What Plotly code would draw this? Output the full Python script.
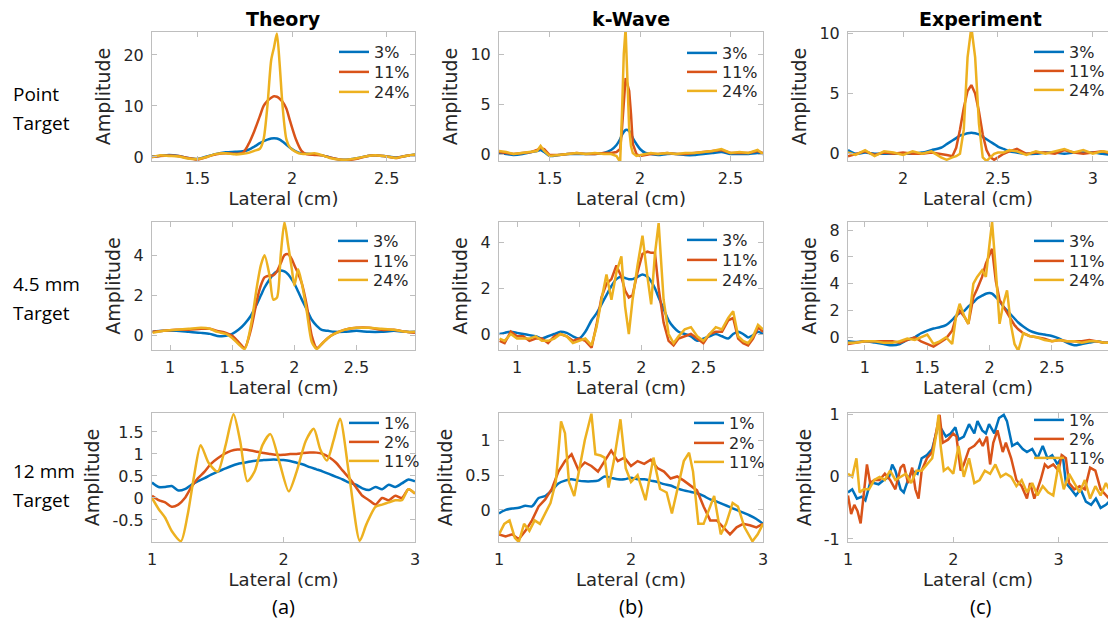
import plotly.graph_objects as go

# ======================= DATA =======================
# --- Row 1: Point target (legend 3%, 11%, 24%) ---
theory_pt_x = [1.26, 1.30, 1.35, 1.40, 1.45, 1.50, 1.55, 1.60, 1.65, 1.70, 1.74, 1.77, 1.80, 1.83, 1.85,
               1.87, 1.89, 1.905, 1.92, 1.935, 1.95, 1.97, 1.99, 2.02, 2.05, 2.08, 2.12, 2.16, 2.20, 2.25,
               2.30, 2.35, 2.40, 2.45, 2.50, 2.55, 2.60, 2.65]
theory_pt_3 = [0.1, 0.2, 0.4, 0.2, -0.2, -0.4, 0.1, 0.6, 0.9, 1.0, 1.1, 1.4, 2.0, 2.7, 3.1, 3.4, 3.6, 3.65,
               3.6, 3.4, 3.0, 2.4, 1.8, 1.1, 0.7, 0.6, 0.5, 0.3, -0.1, -0.5, -0.5, -0.2, 0.2, 0.3, 0.1,
               -0.1, 0.2, 0.5]
theory_pt_11 = [0.0, 0.2, 0.3, 0.2, -0.2, -0.5, 0.0, 0.5, 0.7, 0.6, 0.8, 2.5, 5.0, 8.0, 10.0, 11.0, 11.6,
                11.9, 11.8, 11.4, 10.8, 9.5, 7.0, 3.5, 1.2, 0.5, 0.4, 0.3, -0.1, -0.5, -0.6, -0.3, 0.2,
                0.3, 0.1, -0.2, 0.2, 0.4]
theory_pt_24 = [0.0, 0.3, 0.2, 0.1, -0.3, -0.4, 0.0, 0.6, 0.7, 0.5, 0.6, 0.8, 1.2, 1.6, 3.5, 10.0, 19.0,
                21.5, 24.2, 18.0, 10.0, 3.5, 1.8, 1.0, 0.6, 0.6, 0.7, 0.3, -0.2, -0.5, -0.5, -0.2, 0.2,
                0.3, 0.1, -0.2, 0.2, 0.5]

kwave_pt_x = [1.22, 1.26, 1.30, 1.35, 1.40, 1.43, 1.45, 1.47, 1.50, 1.55, 1.60, 1.65, 1.70, 1.75, 1.80,
              1.84, 1.87, 1.89, 1.90, 1.91, 1.92, 1.93, 1.94, 1.95, 1.96, 1.98, 2.00, 2.03, 2.06, 2.10,
              2.15, 2.20, 2.25, 2.30, 2.35, 2.40, 2.45, 2.50, 2.55, 2.60, 2.65, 2.68]
kwave_pt_3 = [0.1, 0.0, -0.1, 0.0, 0.2, 0.3, 0.4, 0.2, -0.2, -0.1, 0.0, 0.0, 0.0, 0.0, 0.1, 0.4, 0.9, 1.5,
              1.9, 2.2, 2.4, 2.4, 2.3, 2.0, 1.6, 1.0, 0.5, 0.1, 0.0, -0.1, 0.0, 0.0, -0.1, -0.1, 0.0, 0.1,
              0.2, 0.0, 0.0, 0.0, 0.1, 0.0]
kwave_pt_11 = [0.2, 0.1, 0.0, 0.1, 0.2, 0.4, 0.6, 0.5, -0.1, -0.1, 0.0, 0.1, 0.0, 0.0, 0.1, 0.1, 0.2, 0.5,
               2.5, 5.5, 7.6, 7.0, 6.3, 4.0, 1.0, 0.0, -0.2, -0.1, 0.0, 0.0, 0.1, 0.0, 0.0, 0.1, 0.2, 0.3,
               0.4, 0.1, 0.1, 0.1, 0.3, 0.1]
kwave_pt_24 = [0.3, 0.2, 0.0, 0.1, 0.2, 0.3, 0.8, 0.3, -0.2, -0.1, 0.0, 0.1, 0.0, 0.1, 0.0, 0.0, -0.2, -0.8,
               4.0, 10.0, 12.5, 6.5, 2.5, 0.8, 0.1, -0.2, -0.1, 0.0, 0.1, 0.0, 0.1, 0.0, 0.1, 0.1, 0.2,
               0.3, 0.5, 0.1, 0.2, 0.1, 0.4, 0.0]

exp_pt_x = [1.71, 1.75, 1.80, 1.85, 1.90, 1.95, 2.00, 2.05, 2.10, 2.15, 2.20, 2.23, 2.26, 2.28, 2.30, 2.32,
            2.34, 2.36, 2.38, 2.40, 2.42, 2.44, 2.46, 2.48, 2.50, 2.53, 2.56, 2.60, 2.65, 2.70, 2.75, 2.80,
            2.85, 2.90, 2.95, 3.00, 3.05, 3.10]
exp_pt_3 = [0.3, 0.0, 0.1, 0.0, 0.0, 0.0, 0.0, 0.0, 0.1, 0.3, 0.5, 0.8, 1.1, 1.3, 1.5, 1.6, 1.7, 1.75, 1.7,
            1.6, 1.4, 1.2, 1.0, 0.8, 0.6, 0.4, 0.2, 0.1, 0.0, 0.0, 0.1, 0.1, 0.0, 0.1, 0.1, 0.1, 0.0, -0.1]
exp_pt_11 = [-0.2, 0.0, 0.2, -0.1, 0.1, 0.0, 0.1, 0.0, 0.0, 0.1, 0.0, -0.1, -0.2, 0.5, 2.0, 3.8, 5.2, 5.7,
             5.0, 3.5, 1.6, 0.3, -0.3, -0.5, -0.3, 0.0, 0.2, 0.4, 0.0, 0.1, 0.1, 0.0, 0.3, 0.1, 0.0, 0.1,
             0.2, 0.0]
exp_pt_24 = [0.1, -0.1, 0.3, -0.2, 0.2, 0.1, -0.1, 0.2, 0.0, 0.2, -0.3, -0.5, -0.3, -0.2, 0.0, 2.0, 8.0,
             10.5, 8.0, 2.5, -0.3, -0.6, -0.3, 0.0, 0.1, 0.1, 0.3, 0.2, -0.1, 0.2, 0.0, 0.2, 0.4, 0.1, 0.3,
             0.0, 0.2, 0.1]

# --- Row 2: 4.5 mm target (legend 3%, 11%, 24%) ---
theory_45_x = [0.86, 0.95, 1.05, 1.15, 1.25, 1.32, 1.38, 1.45, 1.50, 1.55, 1.60, 1.65, 1.70, 1.73, 1.76,
               1.80, 1.83, 1.86, 1.89, 1.92, 1.95, 1.98, 2.00, 2.03, 2.06, 2.10, 2.14, 2.18, 2.22, 2.27,
               2.32, 2.40, 2.50, 2.60, 2.70, 2.80, 2.90, 2.97]
theory_45_3 = [0.2, 0.25, 0.25, 0.2, 0.15, 0.1, 0.0, 0.0, 0.1, 0.3, 0.6, 1.0, 1.6, 2.0, 2.4, 2.8, 3.05, 3.2,
               3.25, 3.2, 3.05, 2.8, 2.6, 2.2, 1.8, 1.3, 0.8, 0.5, 0.3, 0.25, 0.2, 0.2, 0.25, 0.2, 0.2,
               0.25, 0.2, 0.2]
theory_45_11 = [0.2, 0.25, 0.3, 0.3, 0.35, 0.35, 0.25, 0.15, 0.0, -0.3, -0.6, 0.3, 1.8, 2.5, 2.9, 3.0, 3.0,
                3.2, 3.6, 4.0, 4.05, 3.8, 3.5, 3.1, 2.6, 1.5, 0.0, -0.6, -0.4, -0.1, 0.1, 0.3, 0.4, 0.4,
                0.3, 0.3, 0.2, 0.15]
theory_45_24 = [0.15, 0.25, 0.3, 0.35, 0.4, 0.35, 0.2, 0.1, -0.1, -0.4, -0.65, 0.5, 2.5, 3.5, 4.0, 3.0,
                1.8, 1.9, 4.0, 5.65, 4.5, 3.3, 2.5, 3.3, 2.6, 1.2, -0.3, -0.65, -0.4, -0.1, 0.1, 0.3, 0.4,
                0.4, 0.35, 0.3, 0.2, 0.2]

kwave_45_x = [0.86, 0.90, 0.95, 1.00, 1.05, 1.10, 1.15, 1.20, 1.25, 1.30, 1.35, 1.40, 1.45, 1.50, 1.55,
              1.60, 1.64, 1.68, 1.72, 1.76, 1.80, 1.84, 1.87, 1.90, 1.93, 1.97, 2.01, 2.05, 2.08, 2.11,
              2.14, 2.18, 2.22, 2.26, 2.30, 2.35, 2.40, 2.45, 2.50, 2.55, 2.60, 2.65, 2.70, 2.74, 2.78,
              2.82, 2.86, 2.90, 2.94, 2.98]
kwave_45_3 = [0.0, 0.05, 0.1, 0.05, 0.0, -0.05, -0.1, -0.2, -0.1, 0.0, 0.1, 0.05, -0.1, -0.2, 0.1, 0.6, 0.9,
              1.3, 1.7, 2.1, 2.4, 2.5, 2.45, 2.4, 2.4, 2.5, 2.6, 2.5, 2.3, 2.0, 1.6, 1.1, 0.6, 0.3, 0.1,
              0.0, -0.1, -0.3, -0.2, -0.1, 0.0, -0.1, -0.2, 0.0, 0.1, 0.0, -0.15, -0.05, 0.1, 0.0]
kwave_45_11 = [-0.3, -0.4, 0.1, -0.1, -0.1, -0.3, -0.2, -0.2, -0.4, -0.1, 0.0, -0.1, -0.3, -0.2, -0.3,
               -0.6, 0.4, 1.6, 2.2, 2.4, 3.0, 2.5, 1.9, 1.6, 1.7, 2.7, 3.5, 3.6, 3.55, 3.55, 2.0, 0.5,
               -0.3, -0.5, -0.2, -0.1, 0.0, -0.2, -0.4, 0.0, 0.1, 0.1, 0.6, 0.7, -0.2, -0.4, -0.5, -0.2,
               0.3, 0.1]
kwave_45_24 = [-0.2, -0.3, 0.0, -0.2, -0.2, -0.2, -0.1, -0.3, -0.3, -0.2, 0.0, -0.1, -0.4, -0.3, -0.2,
               -0.5, 0.3, 1.5, 2.6, 1.5, 2.7, 3.4, 1.2, 0.0, 1.5, 3.0, 4.3, 2.5, 1.3, 3.5, 4.85, 1.5, 0.0,
               -0.4, -0.1, 0.2, 0.3, -0.1, -0.3, 0.0, 0.3, 0.2, 0.7, 1.0, -0.1, -0.3, -0.4, -0.1, 0.4,
               0.2]

exp_45_x = [0.86, 0.92, 1.00, 1.08, 1.15, 1.22, 1.28, 1.34, 1.40, 1.45, 1.50, 1.55, 1.60, 1.65, 1.70, 1.73,
            1.76, 1.80, 1.83, 1.87, 1.90, 1.94, 1.97, 2.00, 2.02, 2.05, 2.08, 2.11, 2.14, 2.17, 2.20, 2.23,
            2.27, 2.32, 2.38, 2.44, 2.50, 2.56, 2.62, 2.68, 2.74, 2.80, 2.86, 2.92, 2.98]
exp_45_3 = [-0.3, -0.35, -0.3, -0.4, -0.5, -0.6, -0.5, -0.2, 0.0, 0.3, 0.5, 0.65, 0.75, 0.9, 1.3, 1.6, 1.8,
            2.0, 2.3, 2.6, 2.9, 3.1, 3.25, 3.3, 3.25, 3.0, 2.7, 2.3, 2.0, 1.7, 1.4, 1.1, 0.8, 0.5, 0.3,
            0.2, 0.1, -0.1, -0.4, -0.6, -0.5, -0.4, -0.3, -0.4, -0.4]
exp_45_11 = [-0.5, -0.4, -0.3, -0.3, -0.3, -0.3, -0.4, -0.2, 0.0, -0.3, -0.5, -0.7, -0.4, -0.1, 0.5, 1.5,
             2.0, 1.5, 1.0, 3.0, 3.6, 4.5, 5.5, 6.2, 6.6, 4.2, 2.8, 2.3, 1.8, 1.3, 0.9, 0.6, 0.3, 0.1, 0.0,
             -0.1, -0.3, -0.2, -0.3, -0.3, -0.3, -0.2, -0.3, -0.4, -0.4]
exp_45_24 = [-0.4, -0.4, -0.3, -0.3, -0.4, -0.4, -0.3, -0.1, -0.2, 0.0, 0.2, -0.5, -0.3, 0.0, -0.5, 1.5,
             2.5, 1.5, 1.0, 4.0, 4.5, 5.0, 4.5, 7.0, 8.6, 5.0, 1.0, 2.5, 3.5, 1.0, -0.5, -1.0, 0.3, 0.1,
             0.0, -0.2, -0.3, -0.2, -0.3, -0.3, -0.4, -0.3, -0.3, -0.4, -0.4]

# --- Row 3: 12 mm target (legend 1%, 2%, 11%) ---
theory_12_x = [1.00, 1.05, 1.10, 1.15, 1.20, 1.25, 1.30, 1.35, 1.40, 1.45, 1.50, 1.55, 1.60, 1.65, 1.70,
               1.75, 1.80, 1.85, 1.90, 1.95, 2.00, 2.05, 2.10, 2.15, 2.20, 2.25, 2.30, 2.35, 2.40, 2.45,
               2.50, 2.55, 2.60, 2.65, 2.70, 2.75, 2.80, 2.85, 2.90, 2.95, 3.00]
theory_12_1 = [0.35, 0.25, 0.25, 0.27, 0.17, 0.2, 0.3, 0.38, 0.45, 0.53, 0.6, 0.66, 0.72, 0.77, 0.8, 0.83,
               0.85, 0.86, 0.87, 0.87, 0.86, 0.84, 0.8, 0.76, 0.7, 0.65, 0.6, 0.54, 0.48, 0.42, 0.35, 0.3,
               0.22, 0.18, 0.25, 0.2, 0.3, 0.25, 0.33, 0.42, 0.38]
theory_12_2 = [0.05, -0.05, -0.1, -0.2, -0.15, 0.0, 0.25, 0.45, 0.6, 0.78, 0.9, 1.0, 1.07, 1.1, 1.1, 1.08,
               1.05, 1.02, 1.0, 0.98, 0.98, 1.0, 1.0, 1.02, 1.03, 1.03, 1.0, 0.92, 0.8, 0.62, 0.45, 0.25,
               0.05, -0.05, -0.15, 0.0, -0.05, 0.05, 0.0, 0.2, 0.1]
theory_12_11_x = [1.00, 1.05, 1.10, 1.15, 1.22, 1.27, 1.32, 1.37, 1.43, 1.50, 1.56, 1.62, 1.67, 1.725, 1.78,
                  1.84, 1.90, 1.97, 2.04, 2.10, 2.17, 2.23, 2.28, 2.33, 2.38, 2.43, 2.50, 2.58, 2.63, 2.70,
                  2.75, 2.80, 2.85, 2.90, 2.95, 3.00]
theory_12_11 = [0.0, -0.25, -0.45, -0.75, -0.98, -0.4, 0.5, 1.2, 0.8, 0.6, 1.2, 1.9, 1.3, 0.38, 0.6, 1.2,
                1.45, 0.8, 0.15, 0.6, 1.3, 1.57, 1.1, 0.85, 1.3, 1.8, 0.5, -0.97, -0.6, -0.2, -0.15, -0.1,
                -0.05, -0.05, 0.2, 0.1]

kwave_12_x = theory_12_x
kwave_12_1 = [-0.05, 0.0, 0.02, 0.03, 0.06, 0.05, 0.17, 0.2, 0.28, 0.38, 0.42, 0.44, 0.42, 0.41, 0.41, 0.42,
              0.48, 0.46, 0.44, 0.44, 0.46, 0.44, 0.44, 0.42, 0.4, 0.37, 0.35, 0.31, 0.28, 0.26, 0.24, 0.2,
              0.15, 0.12, 0.08, 0.04, 0.0, -0.04, -0.08, -0.13, -0.2]
kwave_12_2 = [-0.35, -0.38, -0.35, -0.42, -0.3, -0.15, 0.05, 0.15, 0.3, 0.55, 0.7, 0.8, 0.58, 0.68, 0.63,
              0.55, 0.7, 0.85, 0.7, 0.75, 0.63, 0.7, 0.66, 0.72, 0.6, 0.55, 0.45, 0.48, 0.42, 0.35, 0.28,
              0.05, -0.15, -0.15, -0.25, -0.35, -0.25, -0.2, -0.22, -0.25, -0.2]
kwave_12_11_x = [1.00, 1.04, 1.08, 1.12, 1.15, 1.19, 1.23, 1.27, 1.31, 1.35, 1.39, 1.43, 1.47, 1.50, 1.53,
                 1.57, 1.61, 1.65, 1.70, 1.73, 1.77, 1.80, 1.83, 1.87, 1.92, 1.96, 2.00, 2.05, 2.11, 2.17,
                 2.22, 2.27, 2.31, 2.35, 2.40, 2.44, 2.47, 2.51, 2.55, 2.59, 2.63, 2.68, 2.72, 2.77, 2.81,
                 2.86, 2.92, 2.96, 3.00]
kwave_12_11 = [-0.35, -0.2, -0.15, -0.4, -0.46, -0.2, -0.3, -0.15, -0.2, -0.05, 0.1, 0.4, 1.27, 1.1, 0.4,
               0.2, 0.6, 1.0, 1.38, 0.8, 0.78, 0.75, 0.32, 0.7, 1.3, 0.6, 0.4, 0.5, 0.14, 0.75, 0.3, 0.25,
               -0.05, 0.3, 0.7, 0.82, 0.55, -0.2, -0.2, 0.0, 0.2, -0.35, -0.2, 0.1, 0.05, -0.25, -0.45,
               -0.35, -0.2]

exp_12_1_x = [1.0, 1.04, 1.085, 1.13, 1.165, 1.21, 1.245, 1.29, 1.34, 1.39, 1.42, 1.45, 1.5, 1.53, 1.58,
              1.61, 1.66, 1.70, 1.75, 1.80, 1.83, 1.86, 1.895, 1.93, 1.975, 2.02, 2.05, 2.10, 2.15, 2.20,
              2.23, 2.275, 2.31, 2.34, 2.39, 2.435, 2.48, 2.51, 2.56, 2.61, 2.66, 2.70, 2.75, 2.80, 2.85,
              2.895, 2.94, 2.99, 3.04, 3.07, 3.12, 3.165, 3.21, 3.26, 3.31, 3.355, 3.40, 3.45, 3.48]
exp_12_1 = [-0.25, -0.2, -0.35, -0.32, -0.38, -0.1, -0.1, -0.12, -0.05, 0.0, 0.2, 0.1, -0.2, -0.25, 0.0,
            0.1, 0.05, 0.3, 0.35, 0.45, 0.65, 0.85, 0.75, 0.65, 0.7, 0.8, 0.6, 0.65, 0.85, 0.7, 0.9, 0.75,
            0.7, 0.85, 0.7, 0.95, 1.0, 0.9, 0.5, 0.55, 0.45, 0.4, 0.45, 0.3, 0.5, 0.3, 0.35, 0.2, 0.35,
            -0.1, -0.2, -0.3, -0.2, -0.4, -0.45, -0.35, -0.5, -0.45, -0.4]
exp_12_2_x = [1.0, 1.03, 1.06, 1.09, 1.12, 1.15, 1.18, 1.21, 1.25, 1.30, 1.35, 1.40, 1.45, 1.50, 1.53, 1.57,
              1.61, 1.64, 1.67, 1.70, 1.75, 1.80, 1.84, 1.87, 1.90, 1.95, 2.00, 2.03, 2.07, 2.10, 2.15,
              2.20, 2.25, 2.28, 2.32, 2.35, 2.38, 2.42, 2.47, 2.50, 2.55, 2.60, 2.65, 2.70, 2.73, 2.77,
              2.80, 2.83, 2.87, 2.90, 2.95, 3.00, 3.03, 3.07, 3.10, 3.15, 3.20, 3.25, 3.30, 3.35, 3.40,
              3.45, 3.48]
exp_12_2 = [-0.3, -0.6, -0.45, -0.55, -0.75, -0.3, 0.2, -0.1, -0.05, -0.05, 0.05, -0.05, -0.2, 0.15, 0.2,
            -0.1, 0.15, -0.2, -0.35, 0.1, 0.3, 0.4, 0.75, 1.0, 0.55, 0.6, 0.7, 0.65, 0.1, 0.2, 0.45, 0.5,
            0.6, 0.5, 0.65, 0.2, 0.55, 0.75, 0.4, 0.55, 0.3, -0.05, -0.15, -0.35, -0.1, -0.35, -0.2, -0.05,
            0.2, 0.15, 0.2, 0.1, 0.35, 0.3, -0.1, -0.2, -0.15, -0.2, 0.15, 0.1, -0.2, -0.3, -0.35]
exp_12_11_x = [1.0, 1.04, 1.08, 1.11, 1.15, 1.20, 1.25, 1.30, 1.35, 1.40, 1.45, 1.50, 1.55, 1.60, 1.65,
               1.70, 1.75, 1.80, 1.84, 1.86, 1.88, 1.91, 1.95, 2.00, 2.05, 2.10, 2.15, 2.20, 2.25, 2.30,
               2.35, 2.40, 2.45, 2.50, 2.55, 2.60, 2.65, 2.70, 2.75, 2.80, 2.85, 2.90, 2.95, 3.00, 3.05,
               3.10, 3.15, 3.20, 3.25, 3.30, 3.35, 3.40, 3.45, 3.48]
exp_12_11 = [0.05, 0.0, 0.3, -0.25, -0.2, -0.2, -0.05, 0.0, -0.05, 0.1, -0.05, 0.0, 0.05, -0.1, 0.1, 0.1,
             0.2, 0.3, 0.7, 1.0, 0.5, 0.1, 0.15, 0.05, 0.5, 0.0, 0.3, -0.1, -0.05, 0.1, 0.05, 0.2, 0.0,
             0.05, 0.0, -0.15, -0.05, -0.25, -0.1, -0.3, -0.15, -0.25, -0.3, 0.2, -0.2, 0.05, -0.1, -0.25,
             -0.05, -0.35, -0.15, -0.3, -0.1, -0.2]

legend_names_rows12 = ['3%', '11%', '24%']
legend_names_row3 = ['1%', '2%', '11%']
column_titles = ['Theory', 'k-Wave', 'Experiment']
row_labels = [['Point', 'Target'], ['4.5 mm', 'Target'], ['12 mm', 'Target']]
panel_letters = ['(a)', '(b)', '(c)']

# ======================= STYLE / LAYOUT =======================
W, H = 1108, 625
COLORS = ['#0072BD', '#D95319', '#EDB120']
AXC = '#BEBEBE'
TXT = '#262626'
FONT = 'DejaVu Sans'
LABEL_FONT = 'Open Sans'
COLS_PX = [(152, 415), (499, 763), (848, 1108)]
ROWS_PX = [(32, 161), (222, 350), (413, 542)]
LEG_FONT = 16
LEG_CENTER_OFFSET = 17  # px from legend top to its single item centre

panels = [
    dict(r=0, c=0, xr=[1.26, 2.65], yr=[-0.8, 24.5], xt=[1.5, 2, 2.5], yt=[0, 10, 20],
         s=[(theory_pt_x, theory_pt_3), (theory_pt_x, theory_pt_11), (theory_pt_x, theory_pt_24)],
         shape=['spline'] * 3, names=legend_names_rows12, leg=(339, [52, 72, 92])),
    dict(r=0, c=1, xr=[1.22, 2.68], yr=[-0.7, 12.2], xt=[1.5, 2, 2.5], yt=[0, 5, 10],
         s=[(kwave_pt_x, kwave_pt_3), (kwave_pt_x, kwave_pt_11), (kwave_pt_x, kwave_pt_24)],
         shape=['spline', 'linear', 'linear'], names=legend_names_rows12, leg=(687, [53, 72, 91])),
    dict(r=0, c=2, xr=[1.71, 3.08], yr=[-0.6, 10.1], xt=[2, 2.5, 3], yt=[0, 5, 10],
         s=[(exp_pt_x, exp_pt_3), (exp_pt_x, exp_pt_11), (exp_pt_x, exp_pt_24)],
         shape=['spline', 'linear', 'linear'], names=legend_names_rows12, leg=(1034, [52, 71, 90])),
    dict(r=1, c=0, xr=[0.855, 2.97], yr=[-0.7, 5.65], xt=[1, 1.5, 2, 2.5], yt=[0, 2, 4],
         s=[(theory_45_x, theory_45_3), (theory_45_x, theory_45_11), (theory_45_x, theory_45_24)],
         shape=['spline'] * 3, names=legend_names_rows12, leg=(338, [241, 261, 280])),
    dict(r=1, c=1, xr=[0.855, 2.98], yr=[-0.7, 4.9], xt=[1, 1.5, 2, 2.5], yt=[0, 2, 4],
         s=[(kwave_45_x, kwave_45_3), (kwave_45_x, kwave_45_11), (kwave_45_x, kwave_45_24)],
         shape=['spline', 'linear', 'linear'], names=legend_names_rows12, leg=(687, [240, 260, 280])),
    dict(r=1, c=2, xr=[0.864, 2.95], yr=[-0.95, 8.6], xt=[1, 1.5, 2, 2.5], yt=[0, 2, 4, 6, 8],
         s=[(exp_45_x, exp_45_3), (exp_45_x, exp_45_11), (exp_45_x, exp_45_24)],
         shape=['spline', 'linear', 'linear'], names=legend_names_rows12, leg=(1034, [241, 261, 280])),
    dict(r=2, c=0, xr=[1, 3], yr=[-1.0, 1.93], xt=[1, 2, 3], yt=[-0.5, 0, 0.5, 1, 1.5],
         s=[(theory_12_x, theory_12_1), (theory_12_x, theory_12_2), (theory_12_11_x, theory_12_11)],
         shape=['spline'] * 3, names=legend_names_row3, leg=(349, [423, 442, 461])),
    dict(r=2, c=1, xr=[1, 3], yr=[-0.46, 1.39], xt=[1, 2, 3], yt=[0, 0.5, 1],
         s=[(kwave_12_x, kwave_12_1), (kwave_12_x, kwave_12_2), (kwave_12_11_x, kwave_12_11)],
         shape=['spline', 'linear', 'linear'], names=legend_names_row3, leg=(694, [423, 443, 462])),
    dict(r=2, c=2, xr=[1, 3.47], yr=[-1.05, 1.03], xt=[1, 2, 3], yt=[-1, 0, 1],
         s=[(exp_12_1_x, exp_12_1), (exp_12_2_x, exp_12_2), (exp_12_11_x, exp_12_11)],
         shape=['linear', 'linear', 'linear'], names=legend_names_row3, leg=(1034, [420, 439, 458])),
]


def fmt(v):
    return ('%g' % v)


fig = go.Figure()
layout = dict(
    width=W, height=H,
    margin=dict(l=0, r=0, t=0, b=0, autoexpand=False),
    paper_bgcolor='white', plot_bgcolor='white',
    showlegend=True,
    font=dict(family=FONT, color=TXT),
)

leg_idx = 0
for k, p in enumerate(panels, start=1):
    sfx = '' if k == 1 else str(k)
    x0, x1 = COLS_PX[p['c']]
    y0, y1 = ROWS_PX[p['r']]
    line_x, centers = p['leg']
    for (xs, ys), name, col, shp, cy in zip(p['s'], p['names'], COLORS, p['shape'], centers):
        leg_idx += 1
        legname = 'legend' if leg_idx == 1 else 'legend%d' % leg_idx
        fig.add_trace(go.Scatter(
            x=xs, y=ys, mode='lines', name=name,
            line=dict(color=col, width=2.5, shape=shp, smoothing=0.7 if shp == 'spline' else None),
            xaxis='x' + sfx, yaxis='y' + sfx, legend=legname, hoverinfo='skip'))
        layout[legname] = dict(
            x=(line_x - 5) / W, y=1 - (cy - LEG_CENTER_OFFSET) / H, xanchor='left', yanchor='top',
            bgcolor='rgba(0,0,0,0)', borderwidth=0,
            font=dict(family=FONT, size=LEG_FONT, color=TXT))
    common = dict(showline=True, linecolor=AXC, linewidth=1, ticks='inside', ticklen=5,
                  tickcolor=AXC, showgrid=False, zeroline=False,
                  tickfont=dict(family=FONT, size=16, color=TXT))
    layout['xaxis' + sfx] = dict(
        common, domain=[x0 / W, x1 / W], range=p['xr'], anchor='y' + sfx,
        tickmode='array', tickvals=p['xt'], ticktext=[fmt(v) for v in p['xt']],
        mirror='ticks', ticklabelstandoff=3,
        title=dict(text='Lateral (cm)', font=dict(family=FONT, size=18, color=TXT), standoff=4))
    layout['yaxis' + sfx] = dict(
        common, domain=[1 - y1 / H, 1 - y0 / H], range=p['yr'], anchor='x' + sfx,
        tickmode='array', tickvals=p['yt'], ticktext=[fmt(v) for v in p['yt']],
        mirror='ticks' if p['c'] < 2 else False, ticklabelstandoff=4,
        title=dict(text='Amplitude', font=dict(family=FONT, size=19, color=TXT), standoff=7))

annotations = []
for c, t in enumerate(column_titles):
    x0, x1 = COLS_PX[c]
    cx = (x0 + (x1 if c < 2 else 1112)) / 2
    annotations.append(dict(text=t, x=cx / W, y=1 - 19 / H, xref='paper', yref='paper',
                            xanchor='center', yanchor='middle', showarrow=False,
                            font=dict(family=FONT, size=19, color='black', weight='bold')))
    annotations.append(dict(text=panel_letters[c], x=cx / W, y=1 - 606 / H, xref='paper', yref='paper',
                            xanchor='center', yanchor='middle', showarrow=False,
                            font=dict(family=LABEL_FONT, size=20, color='black')))
row_line_y = [(94, 123), (284, 313), (471, 500)]
for lines, ys in zip(row_labels, row_line_y):
    for txt, yy in zip(lines, ys):
        annotations.append(dict(text=txt, x=11 / W, y=1 - yy / H, xref='paper', yref='paper',
                                xanchor='left', yanchor='middle', showarrow=False,
                                font=dict(family=LABEL_FONT, size=19, color='black')))
layout['annotations'] = annotations
fig.update_layout(**layout)

fig.write_html("out.html", config={'displayModeBar': False},
               post_script="document.body.style.margin='0';document.body.style.overflow='hidden';")
